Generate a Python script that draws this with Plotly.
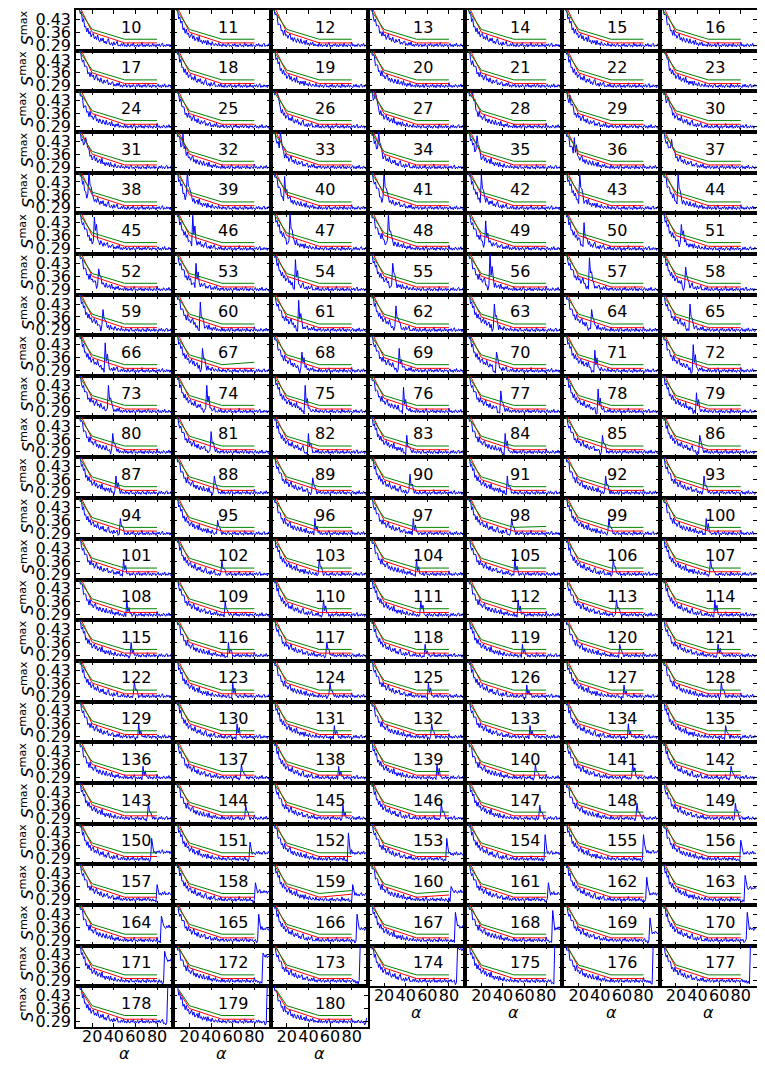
import plotly.graph_objects as go

# ---------------- data ----------------
panel_ids = list(range(10, 181))
alpha = list(range(8, 95))

profile_a = [0.490, 0.460, 0.470, 0.417, 0.433, 0.388, 0.391, 0.362, 0.382, 0.350,
             0.364, 0.334, 0.349, 0.353, 0.324, 0.336, 0.320, 0.345, 0.318, 0.308,
             0.327, 0.312, 0.329, 0.301, 0.312, 0.296, 0.315, 0.325, 0.295, 0.292,
             0.304, 0.287, 0.308, 0.291, 0.298, 0.311, 0.285, 0.290, 0.284, 0.299,
             0.286, 0.303, 0.283, 0.292, 0.281, 0.299, 0.285, 0.282, 0.295, 0.286,
             0.303, 0.281, 0.291, 0.283, 0.296, 0.280, 0.293, 0.287, 0.306, 0.282,
             0.292, 0.281, 0.295, 0.285, 0.298, 0.280, 0.291, 0.283, 0.300, 0.284,
             0.293, 0.279, 0.295, 0.286, 0.297, 0.282, 0.292, 0.302, 0.281, 0.291,
             0.283, 0.296, 0.285, 0.294, 0.280, 0.293, 0.287]
profile_b = [0.480, 0.482, 0.432, 0.442, 0.409, 0.420, 0.372, 0.384, 0.354, 0.376,
             0.348, 0.356, 0.329, 0.343, 0.352, 0.324, 0.341, 0.314, 0.326, 0.333,
             0.309, 0.338, 0.307, 0.316, 0.297, 0.316, 0.301, 0.315, 0.291, 0.316,
             0.294, 0.302, 0.288, 0.309, 0.292, 0.286, 0.300, 0.294, 0.285, 0.303,
             0.286, 0.293, 0.282, 0.298, 0.286, 0.294, 0.280, 0.293, 0.301, 0.283,
             0.290, 0.281, 0.295, 0.285, 0.299, 0.282, 0.292, 0.280, 0.294, 0.297,
             0.283, 0.291, 0.279, 0.304, 0.285, 0.295, 0.281, 0.292, 0.284, 0.298,
             0.282, 0.293, 0.287, 0.280, 0.296, 0.285, 0.299, 0.283, 0.292, 0.281,
             0.294, 0.300, 0.282, 0.291, 0.284, 0.297, 0.286]
profile_c = [0.495, 0.455, 0.456, 0.452, 0.399, 0.404, 0.401, 0.366, 0.372, 0.343,
             0.372, 0.341, 0.346, 0.327, 0.343, 0.352, 0.319, 0.331, 0.310, 0.331,
             0.316, 0.304, 0.326, 0.315, 0.300, 0.324, 0.299, 0.302, 0.314, 0.293,
             0.318, 0.293, 0.302, 0.286, 0.304, 0.292, 0.307, 0.285, 0.297, 0.286,
             0.293, 0.282, 0.304, 0.284, 0.296, 0.281, 0.292, 0.285, 0.298, 0.280,
             0.294, 0.305, 0.283, 0.291, 0.281, 0.295, 0.286, 0.299, 0.282, 0.293,
             0.280, 0.297, 0.287, 0.294, 0.281, 0.301, 0.284, 0.292, 0.280, 0.295,
             0.290, 0.282, 0.307, 0.285, 0.294, 0.281, 0.292, 0.283, 0.298, 0.286,
             0.281, 0.295, 0.285, 0.300, 0.283, 0.291, 0.284]
profile_d = [0.486, 0.488, 0.442, 0.418, 0.430, 0.394, 0.397, 0.394, 0.354, 0.363,
             0.339, 0.363, 0.339, 0.348, 0.321, 0.339, 0.351, 0.319, 0.329, 0.310,
             0.333, 0.310, 0.302, 0.322, 0.306, 0.314, 0.323, 0.295, 0.306, 0.295,
             0.309, 0.312, 0.288, 0.299, 0.288, 0.305, 0.290, 0.308, 0.285, 0.295,
             0.282, 0.297, 0.288, 0.299, 0.282, 0.291, 0.297, 0.281, 0.293, 0.284,
             0.298, 0.286, 0.280, 0.296, 0.287, 0.302, 0.283, 0.293, 0.281, 0.295,
             0.286, 0.298, 0.282, 0.292, 0.303, 0.283, 0.293, 0.280, 0.296, 0.287,
             0.294, 0.281, 0.292, 0.299, 0.283, 0.293, 0.280, 0.296, 0.285, 0.301,
             0.282, 0.291, 0.283, 0.297, 0.286, 0.281, 0.294]
profiles = [profile_a, profile_b, profile_c, profile_d]
PLATEAU = 0.288

# main peak of the blue curve, per panel (alpha position, peak value, level after the peak)
spike_alpha = [
    4, 4.5, 5, 5.5, 6, 6.5, 7,
    7.5, 8, 8.5, 9, 9, 9.5, 10,
    10, 10.5, 11, 11.5, 12, 12.5, 13,
    13.5, 14, 14.5, 15, 15.5, 16, 16.5,
    17, 17.5, 18.5, 19.5, 19.5, 21, 22,
    22, 23, 23, 23.5, 24, 25, 25,
    26, 26.5, 27.5, 28, 28, 29.5, 29,
    30, 30.5, 31, 31, 32, 32.5, 33,
    32, 32.5, 33.5, 34, 34.5, 35, 35.5,
    35, 36, 37, 37.5, 38, 38.5, 39,
    39, 40, 40.5, 41, 41.5, 42, 42.5,
    42, 43, 43.5, 44, 44.5, 45, 45.5,
    45.5, 46, 46.5, 47, 47.5, 48, 48.5,
    49, 49.5, 50, 50.5, 51, 51.5, 52,
    52, 53, 53.5, 54, 54.5, 55, 55.5,
    55.5, 56, 57, 57.5, 58, 58.5, 59,
    59, 60, 60.5, 61, 61.5, 62, 62.5,
    63, 63.5, 64, 64.5, 65, 66, 66.5,
    67, 67.5, 68, 69, 69.5, 70, 71,
    71.5, 72, 72.5, 73, 74, 74.5, 75,
    75, 76, 77, 78, 79, 79.5, 80,
    80.5, 81, 81, 81.5, 82.5, 83, 84,
    84, 84.5, 85, 85.5, 86, 86, 86,
    87, 87.5, 88, 88, 88.5, 89, 89,
    90, 91.5, 93.5]
spike_top = [
    0, 0, 0, 0, 0, 0, 0,
    0, 0, 0, 0, 0.46, 0, 0.48,
    0.44, 0.46, 0.48, 0.48, 0.47, 0.46, 0.45,
    0.45, 0.47, 0.48, 0.48, 0.46, 0.45, 0.44,
    0.49, 0.49, 0.46, 0.49, 0.47, 0.48, 0.47,
    0.46, 0.47, 0.48, 0.47, 0.44, 0.43, 0.42,
    0.40, 0.43, 0.45, 0.43, 0.49, 0.46, 0.41,
    0.40, 0.44, 0.45, 0.42, 0.43, 0.40, 0.43,
    0.44, 0.41, 0.39, 0.41, 0.39, 0.40, 0.43,
    0.43, 0.43, 0.43, 0.42, 0.40, 0.41, 0.39,
    0.39, 0.40, 0.39, 0.38, 0.39, 0.38, 0.38,
    0.38, 0.38, 0.37, 0.39, 0.38, 0.38, 0.38,
    0.37, 0.36, 0.37, 0.37, 0.37, 0.37, 0.37,
    0.37, 0.36, 0.37, 0.37, 0.38, 0.37, 0.37,
    0.37, 0.36, 0.37, 0.36, 0.37, 0.37, 0.37,
    0.36, 0.36, 0.36, 0.35, 0.35, 0.35, 0.35,
    0.37, 0.36, 0.36, 0.36, 0.35, 0.35, 0.36,
    0.36, 0.36, 0.35, 0.36, 0.35, 0.36, 0.35,
    0.35, 0.36, 0.35, 0.36, 0.36, 0.36, 0.35,
    0.37, 0.36, 0.36, 0.37, 0.36, 0.37, 0.37,
    0.40, 0.38, 0.43, 0.40, 0.42, 0.42, 0.39,
    0.37, 0.38, 0.37, 0.36, 0.38, 0.41, 0.42,
    0.42, 0.43, 0.43, 0.44, 0.45, 0.41, 0.44,
    0.45, 0.44, 0.50, 0.47, 0.50, 0.50, 0.50,
    0.50, 0.50, 0.31]
tail_level = [0] * 140 + [
    0.325, 0.32, 0.32, 0.315, 0.32, 0.325, 0.32,
    0.32, 0.33, 0.315, 0.33, 0.32, 0.32, 0.35,
    0.36, 0.35, 0.35, 0.36, 0.35, 0.33, 0.35,
    0.40, 0.42, 0.50, 0.46, 0.50, 0.50, 0.50,
    0.50, 0.50, 0]
row_dip = [0, 0, 0, 0, 0.02, 0.025, 0.025, 0.025, 0.025, 0.02, 0.015, 0.01,
           0.006, 0.006, 0.006, 0.006, 0.006, 0.006, 0.006, 0.006,
           0.008, 0.008, 0.008, 0.012, 0.012]

# reference lines (red, green): start point per row, then knots at alpha 20, 50, 80
knot_alpha = [20, 50, 80]
red_knots = [0.360, 0.302, 0.302]
green_knots = [0.375, 0.322, 0.322]
row_start_alpha = [7] * 22 + [8, 9, 10]
row_red_start = [0.515] * 22 + [0.50, 0.485, 0.455]
row_green_start = [0.487] * 22 + [0.48, 0.475, 0.463]
red_end_override = {159: 0.318, 160: 0.314}
green_end_override = {67: 0.335, 98: 0.327, 159: 0.338, 160: 0.334}

x_ticks = [20, 40, 60, 80]
y_ticks = [0.29, 0.36, 0.43]
y_tick_text = ["0.29", "0.36", "0.43"]

# ---------------- figure ----------------
NROWS, NCOLS = 25, 7
FONT = "DejaVu Sans"
# page body has an 8px margin: the figure is shifted, so it is sized to compensate
FIG_W, FIG_H = 757, 1073
M_L, M_R, M_T, M_B = 68, 8, 2, 54
fig = go.Figure()
layout_axes = {}
annotations = []


def blue_curve(i):
    base = list(profiles[i % 4])
    top = spike_top[i]
    if top <= 0:
        return base
    a = int(round(spike_alpha[i]))
    if a < alpha[0] or a > alpha[-1]:
        return base
    k = alpha.index(a)
    dip = row_dip[i // NCOLS]
    for off, w in zip((-4, -3, -2, -1), (0.3, 0.7, 1.0, 0.8)):
        j = k + off
        if j >= 0:
            base[j] -= dip * w
    b0 = base[k]
    base[k] = max(top, b0)
    tail = tail_level[i]
    n = len(base)
    if tail > 0:
        for j in range(k + 1, n):
            base[j] = base[j] + (tail - PLATEAU)
        if k + 1 < n:
            base[k + 1] = tail + 0.45 * (top - tail)
    else:
        for off, w in ((1, 0.35), (2, 0.5), (3, 0.15)):
            j = k + off
            if j < n:
                base[j] = base[j] + w * (top - b0)
    return base


for i, pid in enumerate(panel_ids):
    r, c = divmod(i, NCOLS)
    n = i + 1
    xa = "x" if n == 1 else f"x{n}"
    ya = "y" if n == 1 else f"y{n}"
    xkey = "xaxis" if n == 1 else f"xaxis{n}"
    ykey = "yaxis" if n == 1 else f"yaxis{n}"

    blue = blue_curve(i)
    fig.add_trace(go.Scatter(x=alpha, y=blue, mode="lines", xaxis=xa, yaxis=ya,
                             line=dict(color="#0000ff", width=1), hoverinfo="skip"))
    red_y = [row_red_start[r]] + red_knots[:2] + [red_end_override.get(pid, red_knots[2])]
    green_y = [row_green_start[r]] + green_knots[:2] + [green_end_override.get(pid, green_knots[2])]
    lx = [row_start_alpha[r]] + knot_alpha
    fig.add_trace(go.Scatter(x=lx, y=red_y, mode="lines", xaxis=xa, yaxis=ya,
                             line=dict(color="#ff0000", width=1), hoverinfo="skip"))
    fig.add_trace(go.Scatter(x=lx, y=green_y, mode="lines", xaxis=xa, yaxis=ya,
                             line=dict(color="#008000", width=1), hoverinfo="skip"))

    bottom = (r == NROWS - 1) or (r == NROWS - 2 and c >= 3)
    x0, x1 = c / NCOLS, (c + 1) / NCOLS
    y1 = 1 - r / NROWS
    y0 = 1 - (r + 1) / NROWS
    common = dict(showline=True, linecolor="black", linewidth=1.5, mirror="allticks",
                  ticks="inside", ticklen=4, tickwidth=1, tickcolor="black",
                  showgrid=False, zeroline=False, fixedrange=True,
                  tickfont=dict(family=FONT, size=16, color="black"))
    layout_axes[xkey] = dict(domain=[x0, x1], anchor=ya, range=[5, 95],
                             tickmode="array", tickvals=x_ticks,
                             ticktext=[str(v) for v in x_ticks],
                             showticklabels=bottom, tickangle=0,
                             ticklabelstandoff=-6, **common)
    layout_axes[ykey] = dict(domain=[y0, y1], anchor=xa, range=[0.26, 0.48],
                             tickmode="array", tickvals=y_ticks, ticktext=y_tick_text,
                             showticklabels=(c == 0), **common)

    annotations.append(dict(text=str(pid), xref=f"{xa} domain", yref=f"{ya} domain",
                            x=0.44, y=0.58, xanchor="left", yanchor="middle",
                            showarrow=False, font=dict(family=FONT, size=16, color="black")))
    if bottom:
        annotations.append(dict(text="<i>α</i>", xref=f"{xa} domain", yref=f"{ya} domain",
                                x=0.5, y=-0.64, xanchor="center", yanchor="middle",
                                showarrow=False, font=dict(family=FONT, size=16, color="black")))

plot_w = FIG_W - M_L - M_R
for r in range(NROWS):
    yc = 1 - (r + 0.45) / NROWS
    annotations.append(dict(text="<i>S</i><sup>max</sup>", xref="paper", yref="paper",
                            x=(19 - M_L) / plot_w, y=yc,
                            xanchor="center", yanchor="middle", textangle=-90,
                            showarrow=False, font=dict(family=FONT, size=16, color="black")))

fig.update_layout(
    template="none",
    width=FIG_W, height=FIG_H,
    margin=dict(l=M_L, r=M_R, t=M_T, b=M_B, pad=0),
    paper_bgcolor="white", plot_bgcolor="white",
    showlegend=False,
    font=dict(family=FONT, color="black"),
    annotations=annotations,
    **layout_axes,
)

fig.write_html("out.html")
